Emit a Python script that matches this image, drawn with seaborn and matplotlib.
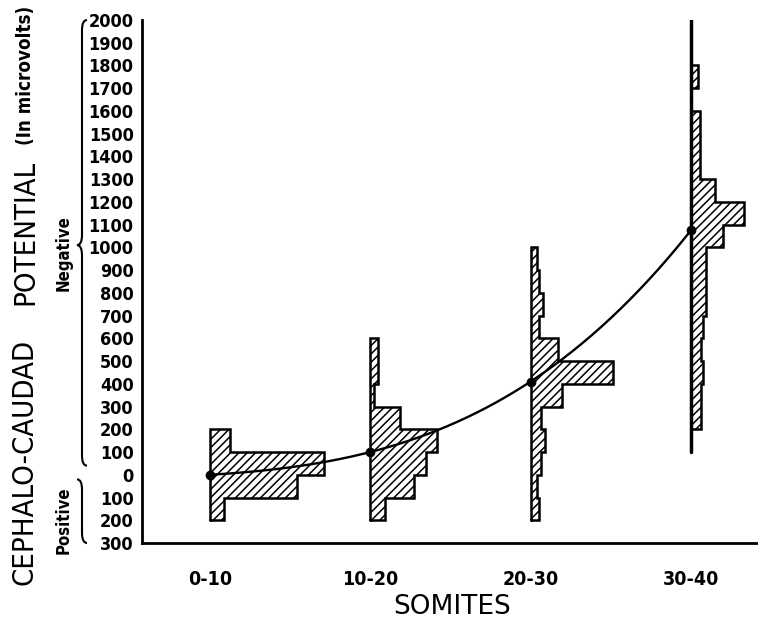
import numpy as np
import seaborn as sns
import matplotlib.pyplot as plt
import matplotlib.transforms as mtransforms
from matplotlib.path import Path
from matplotlib.patches import PathPatch

# somite groups and the mean potential (microvolts, negative side is up)
somites = ["0-10", "10-20", "20-30", "30-40"]
means = [0, 100, 410, 1075]

# percent of embryos in each 100 microvolt bin (lower edge of bin)
bins_0_10 = [-200, -100, 0, 100]
pct_0_10 = [6, 38, 49.5, 8.7]

bins_10_20 = [-200, -100, 0, 100, 200, 300, 400, 500]
pct_10_20 = [6.5, 19, 24, 29, 13, 1.7, 3.5, 3.5]

bins_20_30 = [-200, -100, 0, 100, 200, 300, 400, 500, 600, 700, 800, 900]
pct_20_30 = [3.5, 2.6, 4.3, 6.1, 4.3, 13.5, 35.7, 11.7, 3.5, 5.2, 3.5, 2.6]

bins_30_40 = [200, 300, 400, 500, 600, 700, 800, 900, 1000, 1100, 1200, 1300, 1400, 1500, 1600, 1700]
pct_30_40 = [4.3, 4.3, 5.2, 4.3, 5.2, 6.5, 6.5, 6.5, 13.9, 23, 10.4, 3.9, 3.9, 3.9, 0, 3]
stem_30_40 = [100, 2000]

yticks = list(range(-300, 2001, 100))
ytick_labels = [str(abs(v)) for v in yticks]

sns.set_style("white")
plt.rcParams["font.family"] = ["DejaVu Sans"]
plt.rcParams["font.stretch"] = "condensed"
plt.rcParams["hatch.linewidth"] = 1.1
plt.rcParams["text.color"] = "black"
plt.rcParams["xtick.color"] = "black"
plt.rcParams["ytick.color"] = "black"

fig = plt.figure(figsize=(7.58, 6.26), dpi=100)
ax = fig.add_axes([142 / 758, 83 / 626, 615 / 758, 523 / 626])

scale = 2.3 / 160.3  # percent -> category units
groups = [(bins_0_10, pct_0_10), (bins_10_20, pct_10_20),
          (bins_20_30, pct_20_30), (bins_30_40, pct_30_40)]

for i, (b, p) in enumerate(groups):
    w = np.array(p) * scale
    ax.barh(b, w, left=i, height=100, align="edge", color="white",
            edgecolor="black", linewidth=0, hatch="////")
    # step outline
    xs, ys = [i], [b[0]]
    for lo, wi in zip(b, w):
        xs += [i + wi, i + wi]
        ys += [lo, lo + 100]
    xs += [i, i]
    ys += [b[-1] + 100, b[0]]
    ax.plot(xs, ys, color="black", lw=1.8, solid_joinstyle="miter")

ax.plot([3, 3], stem_30_40, color="black", lw=2.5, solid_capstyle="round")

# smooth curve through the group means
pos = np.arange(len(means))
coef = np.polyfit(pos, means, 3)
xx = np.linspace(0, 3, 200)
sns.lineplot(x=xx, y=np.polyval(coef, xx), color="black", lw=1.7, ax=ax)
ax.plot(pos, means, "o", color="black", ms=6)

ax.set_xlim(-0.424, 3.412)
ax.set_ylim(-300, 2000)
ax.set_yticks(yticks)
ax.set_yticklabels(ytick_labels, fontsize=13, fontweight="bold")
ax.set_xticks(pos)
ax.set_xticklabels(somites, fontsize=14, fontweight="bold")
ax.tick_params(axis="y", length=0, pad=6)
ax.tick_params(axis="x", direction="inout", length=11, width=2, pad=14)
sns.despine(ax=ax)
for s in ["left", "bottom"]:
    ax.spines[s].set_linewidth(2)
    ax.spines[s].set_color("black")

# braces beside the tick labels
trans = mtransforms.blended_transform_factory(fig.transFigure, ax.transData)
xf, bw, r = 77 / 758, 10 / 758, 45


def brace(y_lo, y_hi, y_cusp):
    verts = [(xf + bw, y_hi), (xf + bw / 2, y_hi), (xf + bw / 2, y_hi - r),
             (xf + bw / 2, y_cusp + r), (xf + bw / 2, y_cusp), (xf, y_cusp),
             (xf + bw / 2, y_cusp), (xf + bw / 2, y_cusp - r),
             (xf + bw / 2, y_lo + r), (xf + bw / 2, y_lo), (xf + bw, y_lo)]
    codes = [Path.MOVETO, Path.CURVE3, Path.CURVE3, Path.LINETO, Path.CURVE3,
             Path.CURVE3, Path.CURVE3, Path.CURVE3, Path.LINETO, Path.CURVE3,
             Path.CURVE3]
    ax.add_patch(PathPatch(Path(verts, codes), fill=False, lw=1.5,
                           edgecolor="black", transform=trans, clip_on=False))


brace(40, 2000, 1010)
low = Path([(xf, -20), (xf + bw / 2, -20), (xf + bw / 2, -20 - r),
            (xf + bw / 2, -300 + r), (xf + bw / 2, -300), (xf + bw, -300)],
           [Path.MOVETO, Path.CURVE3, Path.CURVE3, Path.LINETO, Path.CURVE3, Path.CURVE3])
ax.add_patch(PathPatch(low, fill=False, lw=1.5, edgecolor="black",
                       transform=trans, clip_on=False))

fig.text(64 / 758, 1 - 253 / 626, "Negative", rotation=90, ha="center", va="center",
         fontsize=12, fontweight="bold")
fig.text(64 / 758, 1 - 520 / 626, "Positive", rotation=90, ha="center", va="center",
         fontsize=12, fontweight="bold")

fig.text(25 / 758, 1 - 462 / 626, "CEPHALO-CAUDAD", rotation=90, ha="center",
         va="center", fontsize=21)
fig.text(25 / 758, 1 - 232 / 626, "POTENTIAL", rotation=90, ha="center",
         va="center", fontsize=21)
fig.text(25 / 758, 1 - 75 / 626, "(In microvolts)", rotation=90, ha="center",
         va="center", fontsize=13.5, fontweight="bold")
fig.text(452 / 758, 1 - 607 / 626, "SOMITES", ha="center", va="center",
         fontsize=19, fontstretch="normal")

plt.savefig("out.png", dpi=100)
